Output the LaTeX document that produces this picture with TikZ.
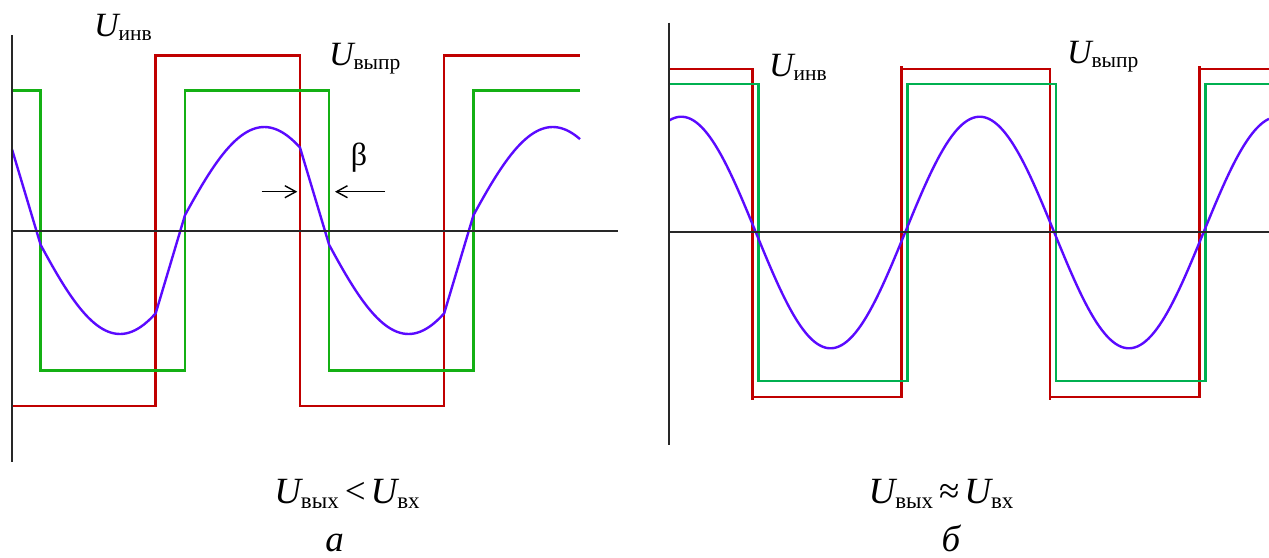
\documentclass[tikz,border=0pt]{standalone}
\usepackage{fontspec}
\setmainfont{Liberation Serif}
\usetikzlibrary{arrows.meta}
\definecolor{cred}{RGB}{192,0,0}
\definecolor{cgreenA}{RGB}{20,176,20}
\definecolor{cgreenB}{RGB}{0,176,80}
\definecolor{cblue}{RGB}{90,10,255}
\definecolor{caxis}{RGB}{40,40,40}
\newcommand{\Ulab}[1]{{\fontsize{34}{37}\selectfont\itshape U}{\fontsize{21.5}{24}\selectfont\raisebox{-4pt}{#1}}}
\newcommand{\Ucap}[1]{{\fontsize{37}{40}\selectfont\itshape U}{\fontsize{23}{26}\selectfont\raisebox{-5pt}{#1}}}
\newcommand{\Ubig}{\fontsize{37}{40}\selectfont}
\tikzset{
  axisline/.style={draw=caxis,line width=2pt},
  redline/.style={draw=cred,line width=2.5pt},
  greenA/.style={draw=cgreenA,line width=2.5pt},
  greenB/.style={draw=cgreenB,line width=2.5pt},
  blueline/.style={draw=cblue,line width=2.4pt,line join=round},
  lbl/.style={inner sep=0pt,outer sep=0pt,anchor=base west},
  ctr/.style={inner sep=0pt,outer sep=0pt,anchor=base},
  barrow/.style={draw=black,line width=1.4pt,-{Straight Barb[length=11pt,width=12pt,line width=1.4pt]}}
}
\begin{document}
\begin{tikzpicture}[x=1pt,y=-1pt]
\useasboundingbox (0,0) rectangle (1269,557);
% ---------- panel a ----------
\draw[redline] (12,406) -- (155.7,406) -- (155.7,55.5) -- (300,55.5) -- (300,406) -- (444.2,406) -- (444.2,55.5) -- (580,55.5);
\draw[greenA] (12,90.5) -- (40.6,90.5) -- (40.6,370.5) -- (184.9,370.5) -- (184.9,90.5) -- (329.1,90.5) -- (329.1,370.5) -- (473.4,370.5) -- (473.4,90.5) -- (580,90.5);
\draw[blueline] (12,149.3) -- (40.6,244.7)
  -- plot[domain=40.6:155.7,samples=40] (\x,{230+104*cos(1.03093*(\x-120))})
  -- (184.9,215.4)
  -- plot[domain=184.9:300,samples=40] (\x,{230-103*cos(1.03093*(\x-264.25))})
  -- (329.1,244.7)
  -- plot[domain=329.1:444.2,samples=40] (\x,{230+104*cos(1.03093*(\x-408.5))})
  -- (473.4,215.4)
  -- plot[domain=473.4:580,samples=40] (\x,{230-103*cos(1.03093*(\x-552.75))});
\draw[axisline] (12,35) -- (12,462);
\draw[axisline] (12,230.5) -- (618,230.5);
\node[lbl] (uinvA) at (94,36.7) {\Ulab{инв}};
\node[lbl] (uvyprA) at (329,65) {\Ulab{выпр}};
\node[ctr] (beta) at (359,165) {\fontsize{32}{35}\selectfont β};
\coordinate (arLs) at (261.7,191.7);
\coordinate (arLe) at (297.3,191.7);
\coordinate (arRs) at (385,191.7);
\coordinate (arRe) at (335,191.7);
\draw[barrow] (arLs) -- (arLe);
\draw[barrow] (arRs) -- (arRe);
\node[ctr] (capA) at (347,503) {\Ucap{вых}\hspace{6pt}\Ubig<\hspace{5pt}\Ucap{вх}};
\node[ctr] (la) at (334.5,551) {\Ubig\itshape а};
% ---------- panel b ----------
\draw[redline] (669,69) -- (752.3,69) -- (752.3,397) -- (901.5,397) -- (901.5,69) -- (1050,69) -- (1050,397) -- (1199.6,397) -- (1199.6,69) -- (1269,69);
\draw[redline] (752.3,397) -- (752.3,400);
\draw[redline] (1050,397) -- (1050,400);
\draw[redline] (901.5,69) -- (901.5,66);
\draw[redline] (1199.6,69) -- (1199.6,66);
\draw[greenB] (669,84) -- (758.3,84) -- (758.3,381) -- (907.5,381) -- (907.5,84) -- (1056,84) -- (1056,381) -- (1205.6,381) -- (1205.6,84) -- (1269,84);
\draw[blueline] plot[domain=669:1269,samples=220] (\x,{232.5-115.8*cos(1.20643*(\x-681.3))});
\draw[axisline] (669,22.7) -- (669,445);
\draw[axisline] (669,232.3) -- (1269,232.3);
\node[lbl] (uinvB) at (769,76.7) {\Ulab{инв}};
\node[lbl] (uvyprB) at (1067,63.3) {\Ulab{выпр}};
\node[ctr] (capB) at (941,503) {\Ucap{вых}\hspace{6pt}\Ubig≈\hspace{5pt}\Ucap{вх}};
\node[ctr] (lb) at (951,551) {\Ubig\itshape б};
\end{tikzpicture}
\end{document}
